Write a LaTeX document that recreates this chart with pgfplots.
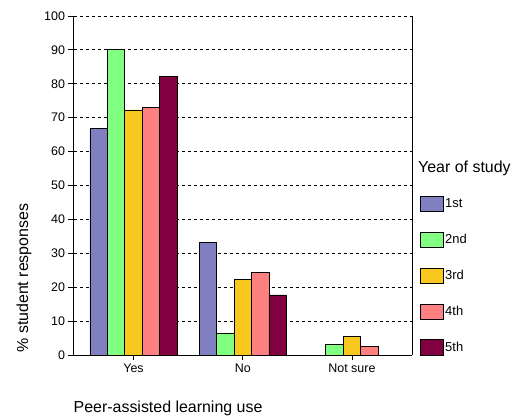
\documentclass[border=0pt]{standalone}
\usepackage{fontspec}
\setmainfont{Liberation Sans}
\usepackage{pgfplots}
\pgfplotsset{compat=1.18}
\definecolor{c1}{RGB}{128,128,192}
\definecolor{c2}{RGB}{128,255,128}
\definecolor{c3}{RGB}{248,200,30}
\definecolor{c4}{RGB}{255,128,128}
\definecolor{c5}{RGB}{128,0,64}
\begin{document}
\begin{tikzpicture}
\begin{axis}[
  name=ax,
  scale only axis, width=338.5bp, height=339bp,
  xmin=-0.55, xmax=2.55, ymin=0, ymax=100,
  ybar=0pt, bar width=17.46bp,
  xtick={0,1,2}, xticklabels={Yes,No,Not sure},
  ytick={0,10,...,100},
  axis x line*=bottom, axis y line*=box,
  ytick pos=left,
  tick align=outside, major tick length=5bp,
  ymajorgrids, grid style={black, dash pattern=on 3bp off 3bp, line width=0.8bp},
  axis line style={line width=0.9bp, black},
  tick style={black, line width=0.8bp},
  ticklabel style={font=\fontsize{12.5}{14}\selectfont},
  /pgf/number format/assume math mode=true,
  xlabel={Peer-assisted learning use},
  ylabel={\% student responses},
  label style={font=\fontsize{16}{18}\selectfont},
  xlabel style={at={(axis description cs:0,-0.156)}, anchor=west, inner sep=0pt},
  ylabel style={at={(axis description cs:-0.146,0.227)}, anchor=center, inner sep=0pt},
  every axis plot/.append style={draw=black, line width=0.8bp},
  legend image code/.code={\draw[#1] (0bp,-7.8bp) rectangle (22.7bp,7.8bp);},
  legend style={draw=none, fill=none, at={(rel axis cs:1,0)}, anchor=south west,
    xshift=8bp, yshift=-1bp, inner sep=0pt, row sep=19.5bp,
    font=\fontsize{13}{15}\selectfont, cells={anchor=west},
    nodes={inner sep=1.5bp}},
  legend cell align=left,
]
\addplot[fill=c1] coordinates {(0,66.7) (1,33.3) (2,0)};
\addplot[fill=c2] coordinates {(0,90.0) (1,6.5) (2,3.2)};
\addplot[fill=c3] coordinates {(0,72.3) (1,22.3) (2,5.5)};
\addplot[fill=c4] coordinates {(0,73.1) (1,24.3) (2,2.6)};
\addplot[fill=c5] coordinates {(0,82.3) (1,17.7) (2,0)};
\legend{1st,2nd,3rd,4th,5th}
\end{axis}
\node[anchor=west, inner sep=0pt, font=\fontsize{16}{18}\selectfont] at ([xshift=6bp,yshift=187bp]ax.south east) {Year of study};
\pgfresetboundingbox
\useasboundingbox (-73.5bp,-65bp) rectangle (448.5bp,355bp);
\end{tikzpicture}
\end{document}
